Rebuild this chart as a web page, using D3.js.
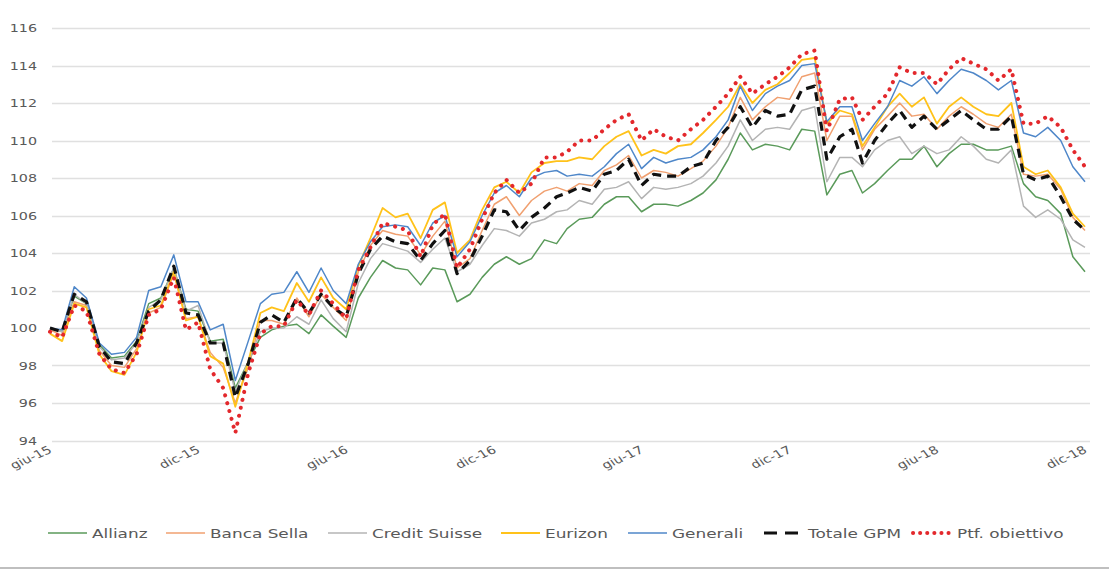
<!DOCTYPE html>
<html>
<head>
<meta charset="utf-8">
<script src="https://cdn.jsdelivr.net/npm/d3@7"></script>
<style>
  body { margin: 0; background: #fff; }
  svg { display: block; font-family: "DejaVu Sans", Verdana, sans-serif; }
</style>
</head>
<body>
<svg id="chart" width="1109" height="570"></svg>
<script>
// Series names and half-month values (1st and 16th of each month, giu-15 .. dic-18)
var seriesNames = ["Allianz", "Banca Sella", "Credit Suisse", "Eurizon", "Generali", "Totale GPM", "Ptf. obiettivo"];

var allianz = [100.0, 99.8, 101.7, 101.3, 99.1, 98.4, 98.5, 99.3, 101.3, 101.6, 103.2, 101.0, 100.9, 99.3, 99.4, 96.8, 98.2, 99.5, 99.9, 100.1, 100.2, 99.7, 100.7, 100.1, 99.5,
  101.6, 102.7, 103.6, 103.2, 103.1, 102.3, 103.2, 103.1, 101.4, 101.8, 102.7, 103.4, 103.8, 103.4, 103.7, 104.7, 104.5, 105.3,
  105.8, 105.9, 106.6, 107.0, 107.0, 106.2, 106.6, 106.6, 106.5, 106.8, 107.2, 107.9, 109.0, 110.4, 109.5, 109.8, 109.7, 109.5, 110.6, 110.5,
  107.1, 108.2, 108.4, 107.2, 107.7, 108.4, 109.0, 109.0, 109.7, 108.6, 109.3, 109.8, 109.8, 109.5, 109.5, 109.7, 107.7, 107.0, 106.8, 106.1, 103.8, 103.0];

var bancaSella = [99.9, 99.6, 101.4, 101.2, 98.8, 98.0, 97.9, 98.9, 100.8, 101.1, 102.9, 100.5, 100.6, 98.7, 97.9, 96.0, 97.9, 100.4, 100.4, 100.2, 101.6, 100.6, 101.8, 101.1, 100.4,
  103.0, 104.4, 105.2, 105.0, 104.9, 103.9, 104.9, 105.7, 103.2, 103.7, 105.2, 106.6, 107.0, 106.0, 106.8, 107.3, 107.5, 107.3,
  107.7, 107.6, 108.4, 108.7, 109.2, 108.0, 108.4, 108.3, 108.1, 108.5, 108.9, 109.7, 110.7, 112.3, 111.1, 111.8, 112.3, 112.2, 113.4, 113.6,
  110.0, 111.3, 111.3, 109.5, 110.6, 111.3, 112.0, 111.3, 111.4, 110.6, 111.3, 111.8, 111.4, 110.9, 110.7, 111.4, 108.2, 108.1, 108.2, 107.4, 105.9, 105.2];

var creditSuisse = [100.0, 99.8, 101.8, 101.3, 99.0, 98.3, 98.4, 99.2, 101.1, 101.5, 103.2, 100.9, 101.2, 99.2, 99.2, 96.6, 98.2, 99.8, 100.0, 100.0, 100.6, 100.2, 101.5, 100.5, 99.8,
  102.4, 103.7, 104.5, 104.3, 104.1, 103.5, 104.2, 104.8, 103.0, 103.4, 104.4, 105.3, 105.2, 104.9, 105.6, 105.8, 106.2, 106.3,
  106.8, 106.6, 107.4, 107.5, 107.8, 106.9, 107.5, 107.4, 107.5, 107.7, 108.1, 108.8, 109.7, 111.1, 110.0, 110.6, 110.7, 110.6, 111.6, 111.8,
  107.8, 109.1, 109.1, 108.6, 109.5, 110.0, 110.2, 109.3, 109.7, 109.3, 109.5, 110.2, 109.7, 109.0, 108.8, 109.5, 106.5, 105.9, 106.3, 105.8, 104.7, 104.3];

var eurizon = [99.7, 99.3, 101.3, 101.1, 98.6, 97.7, 97.5, 98.7, 101.0, 101.2, 103.0, 100.4, 100.6, 98.5, 98.1, 95.8, 98.2, 100.8, 101.1, 100.9, 102.4, 101.4, 102.7, 101.6, 101.0,
  103.3, 104.8, 106.4, 105.9, 106.1, 104.8, 106.3, 106.7, 104.0, 104.7, 106.3, 107.5, 107.8, 107.2, 108.3, 108.8, 108.9, 108.9,
  109.1, 109.0, 109.7, 110.2, 110.5, 109.2, 109.5, 109.3, 109.7, 109.8, 110.4, 111.1, 111.8, 113.0, 112.0, 112.7, 113.0, 113.6, 114.3, 114.4,
  110.9, 111.6, 111.4, 109.7, 110.7, 111.8, 112.5, 111.8, 112.3, 110.9, 111.8, 112.3, 111.8, 111.4, 111.3, 112.0, 108.6, 108.2, 108.4, 107.5, 106.1, 105.4];

var generali = [100.0, 99.9, 102.2, 101.6, 99.2, 98.6, 98.7, 99.5, 102.0, 102.2, 103.9, 101.4, 101.4, 99.9, 100.2, 97.2, 99.3, 101.3, 101.8, 101.9, 103.0, 101.9, 103.2, 102.0, 101.3,
  103.4, 104.6, 105.4, 105.5, 105.4, 104.4, 105.6, 106.0, 103.8, 104.6, 106.0, 107.2, 107.6, 107.0, 108.0, 108.3, 108.4, 108.1,
  108.2, 108.1, 108.6, 109.3, 109.8, 108.5, 109.1, 108.8, 109.0, 109.1, 109.5, 110.2, 111.1, 112.9, 111.6, 112.5, 112.9, 113.2, 114.0, 114.1,
  111.0, 111.8, 111.8, 110.0, 110.9, 111.8, 113.2, 112.9, 113.4, 112.5, 113.2, 113.8, 113.6, 113.2, 112.7, 113.2, 110.4, 110.2, 110.7, 110.0, 108.6, 107.8];

var totaleGPM = [100.0, 99.8, 101.8, 101.4, 99.0, 98.2, 98.1, 99.2, 100.9, 101.5, 103.3, 100.8, 100.7, 99.2, 99.2, 96.3, 98.1, 100.3, 100.7, 100.3, 101.6, 100.8, 101.8, 101.1, 100.6,
  102.9, 104.2, 104.9, 104.6, 104.5, 103.6, 104.5, 105.2, 102.9, 103.6, 104.9, 106.3, 106.2, 105.2, 105.9, 106.4, 107.0, 107.2,
  107.5, 107.3, 108.2, 108.4, 109.0, 107.6, 108.2, 108.1, 108.1, 108.6, 108.8, 110.0, 110.7, 111.8, 110.7, 111.6, 111.3, 111.4, 112.7, 112.9,
  109.0, 110.2, 110.6, 108.8, 110.0, 110.9, 111.6, 110.7, 111.3, 110.6, 111.1, 111.6, 111.1, 110.6, 110.6, 111.3, 108.2, 107.9, 108.1, 107.0, 105.8, 105.2];

var ptfObiettivo = [99.8, 99.5, 101.2, 100.9, 98.6, 97.8, 97.6, 98.6, 100.7, 101.0, 102.7, 99.9, 100.3, 97.8, 96.8, 94.4, 97.6, 99.7, 100.1, 100.1, 101.5, 100.7, 102.0, 101.3, 100.5,
  103.1, 104.3, 105.6, 105.4, 105.2, 103.8, 105.5, 106.1, 103.2, 104.2, 105.8, 107.2, 107.9, 107.2, 107.7, 109.1, 109.1, 109.4,
  110.0, 110.0, 110.6, 111.1, 111.4, 110.0, 110.6, 110.2, 110.0, 110.6, 111.1, 111.8, 112.5, 113.4, 112.5, 113.0, 113.4, 113.9, 114.6, 114.8,
  110.5, 112.2, 112.3, 111.1, 111.8, 112.5, 113.9, 113.6, 113.6, 113.0, 113.8, 114.4, 114.1, 113.8, 113.2, 113.8, 110.9, 110.9, 111.3, 110.7, 109.5, 108.6];

var tickLabels = ["giu-15", "dic-15", "giu-16", "dic-16", "giu-17", "dic-17", "giu-18", "dic-18"];
var yTicks = [94, 96, 98, 100, 102, 104, 106, 108, 110, 112, 114, 116];

// dates for each point: 1st and 16th of each month from June 2015
var dates = allianz.map(function(d, i) {
  return new Date(2015, 5 + Math.floor(i / 2), i % 2 ? 16 : 1);
});
var tickDates = tickLabels.map(function(d, i) { return new Date(2015, 5 + i * 6, 1); });

var styles = [
  { color: "#5a9a5a", width: 1.5 },
  { color: "#f0a070", width: 1.5 },
  { color: "#b4b4b4", width: 1.5 },
  { color: "#ffc21a", width: 1.8 },
  { color: "#4f87c9", width: 1.5 },
  { color: "#111111", width: 3.2, dash: "9,6" },
  { color: "#e3282c", width: 4, dash: "0.1,8", cap: "round" }
];
var allSeries = [allianz, bancaSella, creditSuisse, eurizon, generali, totaleGPM, ptfObiettivo];

// the picture's text is a bit wider than the font, stretch it horizontally
var stretch = 1.3;

var svg = d3.select("#chart");

var margin = { left: 52, right: 1090 },
  x = d3.scaleTime().domain([dates[0], dates[dates.length - 1]]).range([50, 1085]),
  y = d3.scaleLinear().domain([94, 116]).range([440.5, 28]);

// gridlines
svg.append("g")
  .selectAll("line")
  .data(yTicks)
  .join("line")
  .attr("x1", margin.left)
  .attr("x2", margin.right)
  .attr("y1", function(d) { return Math.round(y(d)) + 0.5; })
  .attr("y2", function(d) { return Math.round(y(d)) + 0.5; })
  .attr("stroke", "#e0e0e0")
  .attr("stroke-width", 1.5);

// y axis labels
svg.append("g")
  .selectAll("text")
  .data(yTicks)
  .join("text")
  .attr("transform", function(d) { return "translate(37," + (y(d) + 4) + ") scale(" + stretch + ",1)"; })
  .attr("text-anchor", "end")
  .attr("font-size", 11)
  .attr("fill", "#595959")
  .text(function(d) { return d; });

// x axis labels, rotated
svg.append("g")
  .selectAll("text")
  .data(tickDates)
  .join("text")
  .attr("transform", function(d) {
    return "translate(" + (x(d) + 3) + ",452) scale(" + stretch + ",1) rotate(-30)";
  })
  .attr("text-anchor", "end")
  .attr("font-size", 11)
  .attr("fill", "#595959")
  .text(function(d, i) { return tickLabels[i]; });

var line = d3.line()
  .x(function(d, i) { return x(dates[i]); })
  .y(function(d) { return y(d); });

svg.append("g")
  .selectAll("path")
  .data(allSeries)
  .join("path")
  .attr("d", line)
  .attr("fill", "none")
  .attr("stroke", function(d, i) { return styles[i].color; })
  .attr("stroke-width", function(d, i) { return styles[i].width; })
  .attr("stroke-dasharray", function(d, i) { return styles[i].dash || null; })
  .attr("stroke-linecap", function(d, i) { return styles[i].cap || "butt"; })
  .attr("stroke-linejoin", "round");

// legend, text start positions
var legendTextX = [92, 210, 372, 545, 672, 808, 957];
var legend = svg.append("g").attr("transform", "translate(0,533)");
seriesNames.forEach(function(name, i) {
  var s = styles[i], tx = legendTextX[i];
  legend.append("line")
    .attr("x1", tx - 44).attr("x2", tx - 5)
    .attr("y1", 0).attr("y2", 0)
    .attr("stroke", s.color)
    .attr("stroke-width", s.width)
    .attr("stroke-dasharray", i === 5 ? "13,8" : (i === 6 ? "0.1,7" : null))
    .attr("stroke-linecap", s.cap || "butt");
  legend.append("text")
    .attr("transform", "translate(" + tx + ",5) scale(" + stretch + ",1)")
    .attr("font-size", 13)
    .attr("fill", "#595959")
    .text(name);
});

// bottom frame line
svg.append("line")
  .attr("x1", 0).attr("x2", 1109)
  .attr("y1", 568).attr("y2", 568)
  .attr("stroke", "#bfbfbf")
  .attr("stroke-width", 2);
</script>
</body>
</html>
